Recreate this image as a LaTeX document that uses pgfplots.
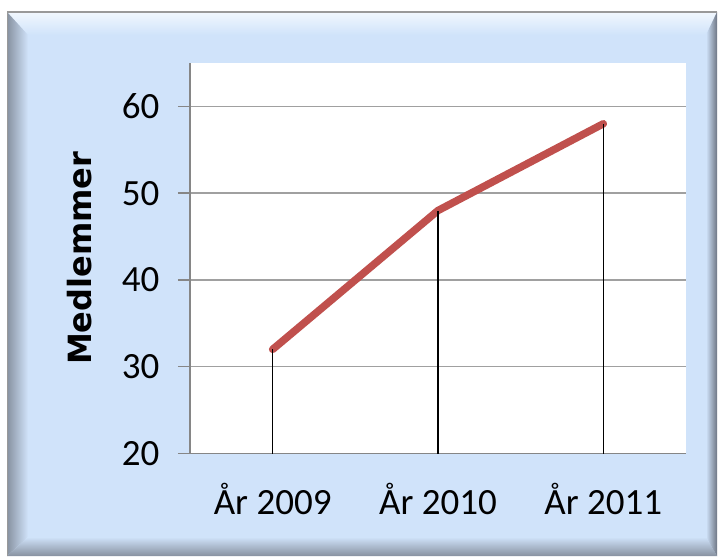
\documentclass[border=0pt]{standalone}
\usepackage{fontspec}
\usepackage{pgfplots}
\pgfplotsset{compat=1.18}
\newfontfamily\carlito{Carlito}
\newfontfamily\dejavu{DejaVu Sans}
\definecolor{panel}{RGB}{208,227,250}
\definecolor{toplight}{RGB}{232,242,253}
\definecolor{bevgray}{RGB}{135,145,160}
\definecolor{bevdark}{RGB}{110,118,132}
\definecolor{linered}{RGB}{192,80,77}
\definecolor{gridgray}{RGB}{160,160,160}
\definecolor{axgray}{RGB}{134,134,134}
\begin{document}
\begin{tikzpicture}[x=1pt,y=1pt]
\useasboundingbox (0,0) rectangle (718,558);
\fill[white] (0,0) rectangle (718,558);
% panel face (y flipped: Y = 558 - y)
\fill[panel] (7,2) rectangle (717,546);
% top bevel
\shade[top color=toplight!60!white, bottom color=panel] (7,546) -- (717,546) -- (706,523) -- (28,523) -- cycle;
% left bevel
\shade[left color=bevgray, right color=panel] (7,546) -- (28,523) -- (28,21) -- (7,2) -- cycle;
% bottom bevel
\shade[top color=panel, bottom color=bevgray] (7,2) -- (28,21) -- (706,21) -- (717,2) -- cycle;
% right bevel
\shade[left color=panel, right color=bevdark] (717,546) -- (706,523) -- (706,21) -- (717,2) -- cycle;
\draw[gray!80, line width=2.5pt] (7,546) -- (717,546);
\draw[gray!80, line width=1.5pt] (7.5,546) -- (7.5,2);
\begin{axis}[
  at={(190pt,104.5pt)}, anchor=south west,
  scale only axis, width=496pt, height=390.5pt,
  xmin=-0.5, xmax=2.5, ymin=20, ymax=65,
  axis background/.style={fill=white},
  axis lines*=left,
  axis line style={axgray, line width=1.5pt},
  xtick={0,1,2},
  xticklabels={År 2009, År 2010, År 2011},
  ytick={20,30,40,50,60},
  ymajorgrids,
  grid style={gridgray, line width=1.5pt},
  tick align=outside,
  major tick length=12pt,
  y tick style={axgray, line width=1.5pt},
  x tick style={draw=none},
  /pgf/number format/assume math mode=true,
  ticklabel style={font=\carlito\fontsize{37}{40}\selectfont},
  yticklabel style={anchor=east, xshift=-15pt},
  xticklabel style={anchor=north, yshift=-14pt},
  ylabel={Medlemmer},
  every axis y label/.style={at={(rel axis cs:0,0.5)}, xshift=-110pt, rotate=90, anchor=center,
    font=\dejavu\bfseries\fontsize{32}{36}\selectfont},
  clip=true,
]
\addplot[linered, line width=7.5pt, line cap=round, line join=round] coordinates {(0,32) (1,48) (2,58)};
\addplot[ycomb, black, line width=1.5pt, no marks] coordinates {(0,32) (1,48) (2,58)};
\end{axis}
\end{tikzpicture}
\end{document}
